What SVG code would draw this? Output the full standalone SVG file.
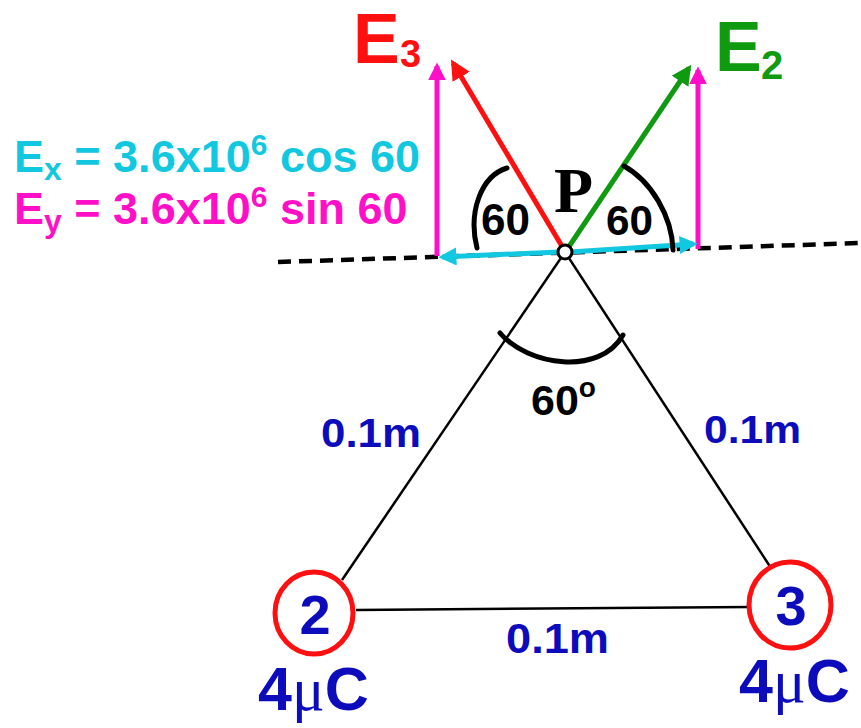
<svg xmlns="http://www.w3.org/2000/svg" width="861" height="728" viewBox="0 0 861 728">
<defs>
<style>
.b{font-family:"Liberation Sans",Arial,sans-serif;font-weight:bold}
.blue{fill:#0c0cbc}
.tri{stroke:#000;stroke-width:2.5;fill:none}
.arc{stroke:#000;stroke-width:5;fill:none;stroke-linecap:round}
</style>
<marker id="ar" viewBox="0 0 10 10" refX="8" refY="5" markerWidth="4" markerHeight="4" orient="auto" markerUnits="strokeWidth"><path d="M0,0 L10,5 L0,10 Z" fill="#ff1010"/></marker>
<marker id="ag" viewBox="0 0 10 10" refX="8" refY="5" markerWidth="4" markerHeight="4" orient="auto" markerUnits="strokeWidth"><path d="M0,0 L10,5 L0,10 Z" fill="#109a10"/></marker>
<marker id="am" viewBox="0 0 10 10" refX="8" refY="5" markerWidth="3.6" markerHeight="3.6" orient="auto" markerUnits="strokeWidth"><path d="M0,0 L10,5 L0,10 Z" fill="#ff10c8"/></marker>
<marker id="ac" viewBox="0 0 10 10" refX="8" refY="5" markerWidth="3.6" markerHeight="3.6" orient="auto" markerUnits="strokeWidth"><path d="M0,0 L10,5 L0,10 Z" fill="#12c8e0"/></marker>
</defs>
<rect width="861" height="728" fill="#fff"/>
<g id="connectors">
<line class="tri" x1="565" y1="252" x2="342" y2="580"/>
<line class="tri" x1="565" y1="252" x2="771" y2="568"/>
<line class="tri" x1="356" y1="610" x2="750" y2="607"/>
<line x1="278" y1="262" x2="861" y2="243" stroke="#000" stroke-width="4.5" stroke-dasharray="13,8"/>
<line x1="437" y1="256" x2="437" y2="66" stroke="#ff10c8" stroke-width="5" marker-end="url(#am)"/>
<line x1="698" y1="249" x2="698" y2="70" stroke="#ff10c8" stroke-width="5" marker-end="url(#am)"/>
<line x1="560" y1="252" x2="442" y2="257" stroke="#12c8e0" stroke-width="5" marker-end="url(#ac)"/>
<line x1="570" y1="252" x2="694" y2="244" stroke="#12c8e0" stroke-width="5" marker-end="url(#ac)"/>
<line x1="563" y1="248" x2="453" y2="63" stroke="#ff1010" stroke-width="5" marker-end="url(#ar)"/>
<line x1="568" y1="248" x2="689" y2="68" stroke="#109a10" stroke-width="5" marker-end="url(#ag)"/>
<path class="arc" d="M507,168 C481,176 468,212 477,248"/>
<path class="arc" d="M624,166 C651,181 672,216 673,250"/>
<path class="arc" d="M500,333 C528,366 600,376 623,335"/>
</g>
<g id="P">
<circle cx="565" cy="252" r="7" fill="#fff" stroke="#000" stroke-width="3"/>
<text x="554" y="212" font-family="'Liberation Serif',serif" font-weight="bold" font-size="64">P</text>
</g>
<g id="E3">
<text class="b" x="353" y="63" font-size="70" fill="#ff1010">E</text>
<text class="b" x="400" y="67" font-size="38" fill="#ff1010">3</text>
</g>
<g id="E2">
<text class="b" x="715" y="71" font-size="70" fill="#109a10">E</text>
<text class="b" x="761" y="79" font-size="40" fill="#109a10">2</text>
</g>
<g id="labels">
<text class="b" x="481" y="235" font-size="44" textLength="49" lengthAdjust="spacingAndGlyphs">60</text>
<text class="b" x="606" y="235" font-size="42" textLength="47" lengthAdjust="spacingAndGlyphs">60</text>
<text class="b" x="531" y="415" font-size="43">60<tspan font-size="28" dy="-18">o</tspan></text>
<text class="b blue" x="321" y="447" font-size="40" textLength="100" lengthAdjust="spacingAndGlyphs">0.1m</text>
<text class="b blue" x="704" y="443" font-size="39" textLength="97" lengthAdjust="spacingAndGlyphs">0.1m</text>
<text class="b blue" x="506" y="653" font-size="42" textLength="103" lengthAdjust="spacingAndGlyphs">0.1m</text>
</g>
<g id="equations">
<text class="b" x="14" y="172" font-size="45" fill="#12c8e0">E<tspan font-size="32" dy="8">x</tspan><tspan dy="-8"> = 3.6x10</tspan><tspan font-size="30" dy="-17">6</tspan><tspan dy="17"> cos 60</tspan></text>
<text class="b" x="14" y="224" font-size="45" fill="#ff10c8">E<tspan font-size="32" dy="8">y</tspan><tspan dy="-8"> = 3.6x10</tspan><tspan font-size="30" dy="-17">6</tspan><tspan dy="17"> sin 60</tspan></text>
</g>
<g id="charge2">
<ellipse cx="314" cy="613" rx="39" ry="41" fill="#fff" stroke="#ff1010" stroke-width="5"/>
<text class="b blue" x="315" y="634" font-size="56" text-anchor="middle">2</text>
<text class="b blue" x="258" y="710" font-size="61">4<tspan font-family="'Liberation Serif',serif" font-weight="normal">μ</tspan>C</text>
</g>
<g id="charge3">
<ellipse cx="790" cy="605" rx="41" ry="43" fill="#fff" stroke="#ff1010" stroke-width="5"/>
<text class="b blue" x="791" y="625" font-size="56" text-anchor="middle">3</text>
<text class="b blue" x="739" y="702" font-size="61">4<tspan font-family="'Liberation Serif',serif" font-weight="normal">μ</tspan>C</text>
</g>
</svg>
